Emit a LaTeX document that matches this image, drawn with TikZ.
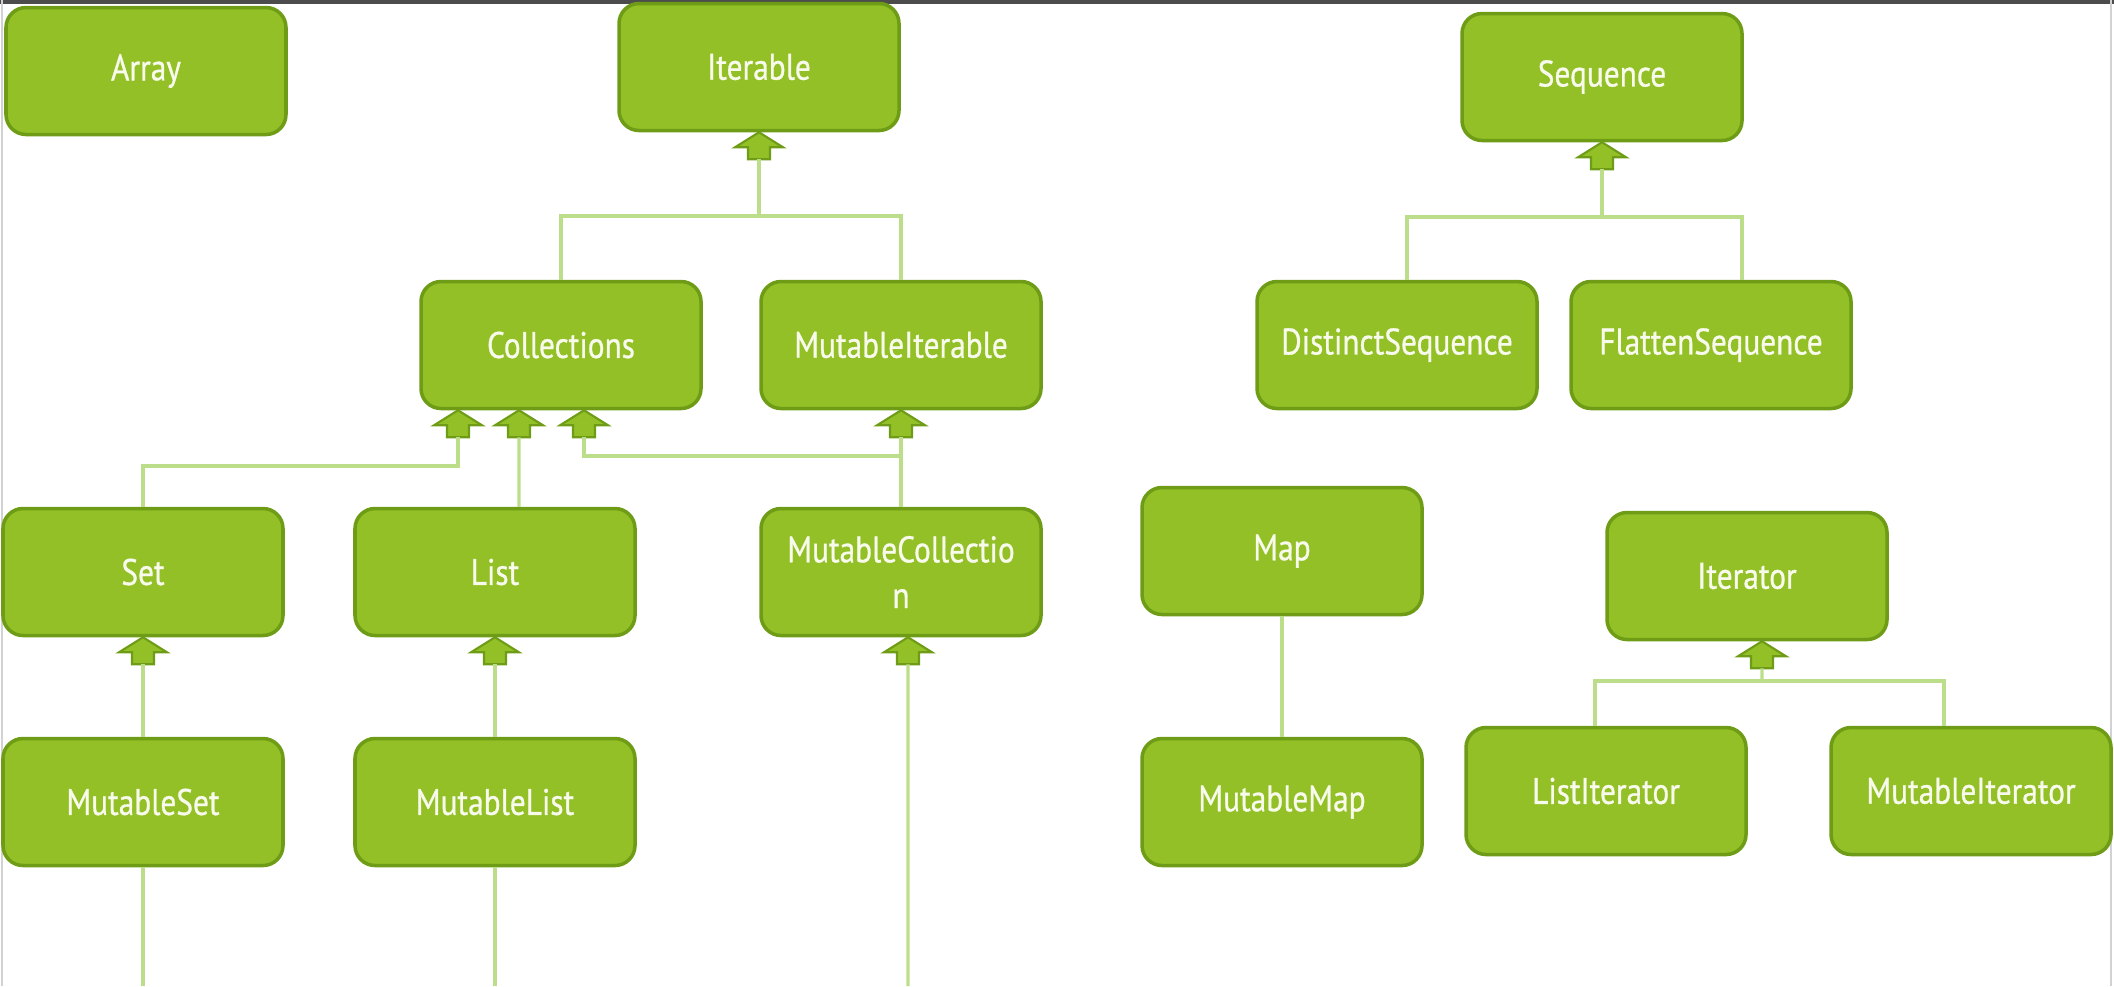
\documentclass[tikz,border=0pt]{standalone}
\usepackage{fontspec}
\setmainfont{PT Sans}[FakeStretch=0.85,FakeBold=0.8]
\definecolor{boxgreen}{RGB}{146,192,38}
\definecolor{edgegreen}{RGB}{110,156,22}
\definecolor{linegreen}{RGB}{188,222,138}
\definecolor{labelwhite}{RGB}{248,250,236}

\begin{document}
\begin{tikzpicture}[
  cls/.style={draw=edgegreen,fill=boxgreen,line width=1pt,rounded corners=2mm,
    minimum width=2.8cm,minimum height=1.27cm,text=labelwhite,align=center,
    font=\fontsize{10.5}{13}\selectfont},
  link/.style={draw=linegreen,line width=0.9pt},
  inh/.pic={\draw[draw=edgegreen,fill=boxgreen,line width=0.6pt]
    (0,0) -- (0.24,-0.15) -- (0.11,-0.15) -- (0.11,-0.27) -- (-0.11,-0.27)
    -- (-0.11,-0.15) -- (-0.24,-0.15) -- cycle;}]
  \useasboundingbox (0,0) rectangle (21.14,-9.86);
  % frame
  \draw[gray!60!black,line width=1pt] (0,-0.02) -- (21.14,-0.02);
  \draw[gray!35,line width=0.8pt] (0.02,0) -- (0.02,-9.86);
  \draw[gray!35,line width=0.8pt] (21.11,0) -- (21.11,-9.86);

  % top row
  \node[cls] (array) at (1.46,-0.71) {Array};
  \node[cls] (iterable) at (7.59,-0.67) {Iterable};
  \node[cls] (seq) at (16.02,-0.77) {Sequence};
  % second row
  \node[cls] (coll) at (5.61,-3.45) {Collections};
  \node[cls] (mutit) at (9.01,-3.45) {MutableIterable};
  \node[cls] (dseq) at (13.97,-3.45) {DistinctSequence};
  \node[cls] (fseq) at (17.11,-3.45) {FlattenSequence};
  % third row
  \node[cls] (set) at (1.43,-5.72) {Set};
  \node[cls] (list) at (4.95,-5.72) {List};
  \node[cls] (mutcoll) at (9.01,-5.72) {MutableCollectio\\n};
  \node[cls] (map) at (12.82,-5.51) {Map};
  \node[cls] (iter) at (17.47,-5.76) {Iterator};
  % bottom row
  \node[cls] (mset) at (1.43,-8.02) {MutableSet};
  \node[cls] (mlist) at (4.95,-8.02) {MutableList};
  \node[cls] (mmap) at (12.82,-8.02) {MutableMap};
  \node[cls] (listit) at (16.06,-7.91) {ListIterator};
  \node[cls] (mutiter) at (19.71,-7.91) {MutableIterator};

  % hubs and loose ends
  \coordinate (ithub) at (7.59,-2.16);
  \coordinate (seqhub) at (16.02,-2.17);
  \coordinate (sethub) at (1.43,-4.66);
  \coordinate (mchub) at (9.01,-4.56);
  \coordinate (iterhub) at (17.62,-6.81);
  \coordinate (msetend) at (1.43,-9.86);
  \coordinate (mlistend) at (4.95,-9.86);
  \coordinate (mcend) at (9.08,-9.86);

  % Iterable
  \pic at (iterable.south) {inh};
  \draw[link] ([yshift=-2.7mm]iterable.south) -- (ithub);
  \draw[link] (coll.north) |- (ithub) -| (mutit.north);
  % Sequence
  \pic at (seq.south) {inh};
  \draw[link] ([yshift=-2.7mm]seq.south) -- (seqhub);
  \draw[link] ([xshift=1mm]dseq.north) |- (seqhub) -| ([xshift=3.1mm]fseq.north);
  % Collections
  \pic at ([xshift=-10.3mm]coll.south) {inh};
  \pic at ([xshift=-4.2mm]coll.south) {inh};
  \pic at ([xshift=2.3mm]coll.south) {inh};
  \draw[link] (set.north) -- (sethub) -| ([xshift=-10.3mm,yshift=-2.7mm]coll.south);
  \draw[link] ([xshift=2.4mm]list.north) -- ([xshift=-4.2mm,yshift=-2.7mm]coll.south);
  \draw[link] (mchub) -| ([xshift=2.3mm,yshift=-2.7mm]coll.south);
  % MutableIterable
  \pic at (mutit.south) {inh};
  \draw[link] (mutcoll.north) -- ([yshift=-2.7mm]mutit.south);
  % Set, List, MutableCollection
  \pic at (set.south) {inh};
  \draw[link] (mset.north) -- ([yshift=-2.7mm]set.south);
  \pic at (list.south) {inh};
  \draw[link] (mlist.north) -- ([yshift=-2.7mm]list.south);
  \pic at ([xshift=0.7mm]mutcoll.south) {inh};
  \draw[link] (mcend) -- ([xshift=0.7mm,yshift=-2.7mm]mutcoll.south);
  \draw[link] (mset.south) -- (msetend);
  \draw[link] (mlist.south) -- (mlistend);
  % Map
  \draw[link] (map.south) -- (mmap.north);
  % Iterator
  \pic at ([xshift=1.5mm]iter.south) {inh};
  \draw[link] ([xshift=1.5mm,yshift=-2.7mm]iter.south) -- (iterhub);
  \draw[link] ([xshift=-1.1mm]listit.north) |- (iterhub) -| ([xshift=-2.7mm]mutiter.north);
\end{tikzpicture}
\end{document}
